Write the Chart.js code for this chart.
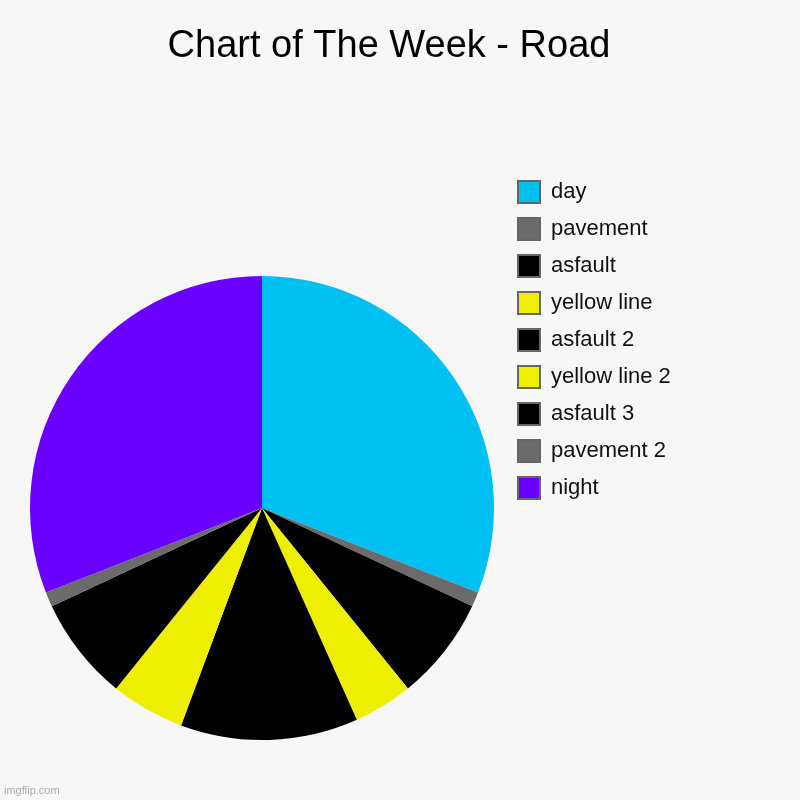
<!DOCTYPE html>
<html>
<head>
<meta charset="utf-8">
<title>Chart of The Week - Road</title>
<script src="https://cdn.jsdelivr.net/npm/chart.js@4/dist/chart.umd.min.js"></script>
<style>
  html, body { margin: 0; padding: 0; background: #f7f7f7; }
  #road-chart { display: block; }
</style>
</head>
<body>
<canvas id="road-chart" width="800" height="800"></canvas>
<script>
'use strict'

// Chart values go here
var sliceNames = ['day', 'pavement', 'asfault', 'yellow line', 'asfault 2', 'yellow line 2', 'asfault 3', 'pavement 2', 'night'];
var sliceValues = [30, 1, 7, 4, 12, 5, 7, 1, 30];
var sliceColors = ['#00bff3', '#6b6b6b', '#000000', '#eeee00', '#000000', '#eeee00', '#000000', '#6b6b6b', '#6a00ff'];

//------------------Placement Plugin----------------------// Puts the pie and the legend where the reference has them
var placement = {
  id: 'placement',
  afterLayout: function(chart) {
    let area = chart.chartArea;
    area.left = 30;
    area.right = 494;
    area.top = 276;
    area.bottom = 740;
    area.width = 464;
    area.height = 464;

    let legend = chart.legend;
    let w = legend.right - legend.left;
    let h = legend.bottom - legend.top;
    legend.left = 503;
    legend.right = 503 + w;
    legend.top = 166;
    legend.bottom = 166 + h;
  },
  afterDraw: function(chart) {
    let ctx = chart.ctx;
    ctx.save();
    ctx.font = '11px "Liberation Sans", Arial, sans-serif';
    ctx.fillStyle = '#aaaaaa';
    ctx.textBaseline = 'middle';
    ctx.fillText('imgflip.com', 4, 791);
    ctx.restore();
  }
};

//-------------------Background Plugin--------------------//
var background = {
  id: 'background',
  beforeDraw: function(chart) {
    let ctx = chart.ctx;
    ctx.save();
    ctx.fillStyle = '#f7f7f7';
    ctx.fillRect(0, 0, chart.width, chart.height);
    ctx.restore();
  }
};

//---------------------Chart--------------------//
let ctx = document.getElementById('road-chart').getContext('2d');

let roadChart = new Chart(ctx, {
  type: 'pie',
  data: {
    labels: sliceNames,
    datasets: [{
      data: sliceValues,
      backgroundColor: sliceColors,
      borderWidth: 0
    }]
  },
  options: {
    responsive: false,
    animation: false,
    layout: {
      // uneven sides so the title sits a bit left of the middle, like the original
      padding: { left: 0, right: 22, top: 0, bottom: 60 }
    },
    plugins: {
      title: {
        display: true,
        text: 'Chart of The Week - Road',
        color: '#000000',
        font: { family: '"Liberation Sans", Arial, sans-serif', size: 38, weight: 'normal' },
        padding: { top: 24, bottom: 100 }
      },
      legend: {
        position: 'right',
        align: 'start',
        labels: {
          color: '#111111',
          boxWidth: 22,
          boxHeight: 22,
          padding: 15,
          font: { family: '"Liberation Sans", Arial, sans-serif', size: 22 },
          // legend boxes get a grey outline, the slices do not
          generateLabels: function(chart) {
            let items = Chart.overrides.pie.plugins.legend.labels.generateLabels(chart);
            items.forEach(function(item) {
              item.strokeStyle = '#666666';
              item.lineWidth = 2;
            });
            return items;
          }
        }
      },
      tooltip: { enabled: false }
    }
  },
  plugins: [background, placement]
});
</script>
</body>
</html>
